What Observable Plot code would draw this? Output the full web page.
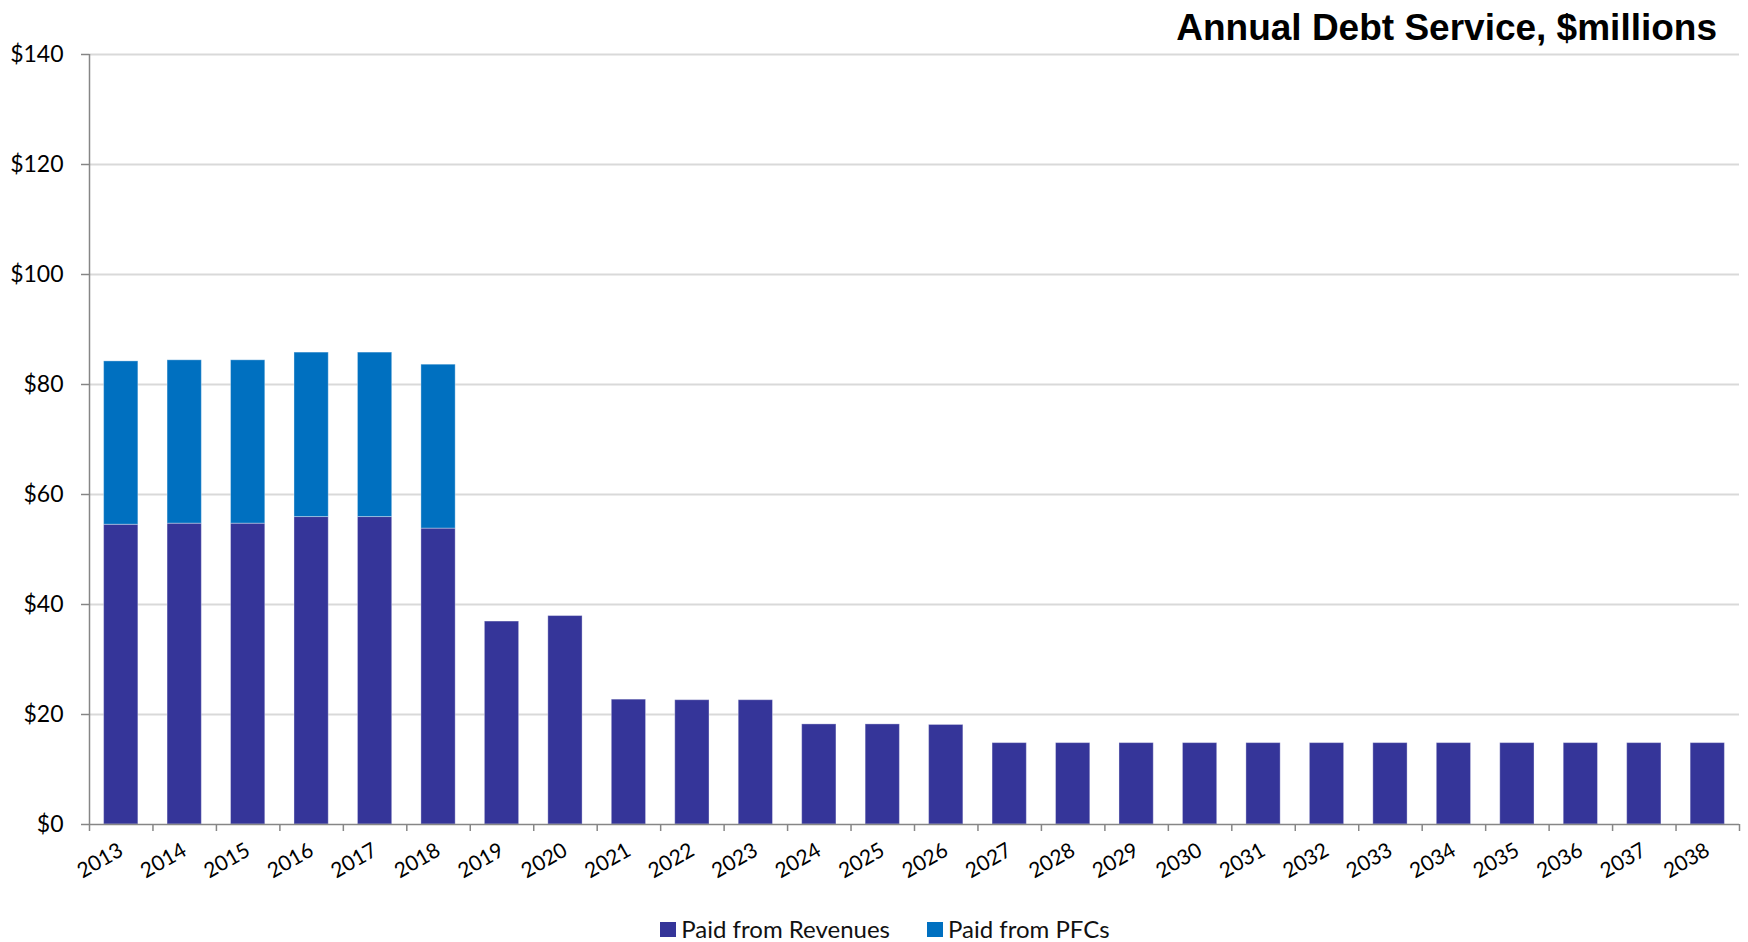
<!DOCTYPE html>
<html>
<head>
<meta charset="utf-8">
<script src="https://cdn.jsdelivr.net/npm/d3@7"></script>
<script src="https://cdn.jsdelivr.net/npm/@observablehq/plot@0.6"></script>
<style>
  body { margin: 0; background: #fff; }
  #wrap { position: relative; width: 1748px; height: 942px; overflow: hidden; font-family: Lato, "Open Sans", sans-serif; }
  #chart { position: absolute; left: 0; top: 0; }
  #title { position: absolute; right: 31px; top: 9px; font: bold 37px/37px "Liberation Sans", Arial, sans-serif; color: #000; white-space: nowrap; }
  #legend { position: absolute; left: 0; top: 918px; width: 1748px; display: flex; justify-content: center; gap: 37px; font-size: 24px; line-height: 22px; color: #111; padding-left: 22px; box-sizing: border-box; }
  .item { display: flex; align-items: center; gap: 5px; }
  .sw { width: 16px; height: 15px; display: inline-block; }
</style>
</head>
<body>
<div id="wrap">
  <div id="chart"></div>
  <div id="title"></div>
  <div id="legend"></div>
</div>
<script>
const titleText = "Annual Debt Service, $millions";
const years = [2013, 2014, 2015, 2016, 2017, 2018, 2019, 2020, 2021, 2022, 2023, 2024, 2025,
               2026, 2027, 2028, 2029, 2030, 2031, 2032, 2033, 2034, 2035, 2036, 2037, 2038];
const revenues = [54.5, 54.7, 54.7, 55.9, 55.9, 53.8, 36.9, 37.9, 22.7, 22.6, 22.6, 18.2, 18.2,
                  18.1, 14.8, 14.8, 14.8, 14.8, 14.8, 14.8, 14.8, 14.8, 14.8, 14.8, 14.8, 14.8];
const pfcs = [29.7, 29.7, 29.7, 29.9, 29.9, 29.8, 0, 0, 0, 0, 0, 0, 0,
              0, 0, 0, 0, 0, 0, 0, 0, 0, 0, 0, 0, 0];
const seriesNames = ["Paid from Revenues", "Paid from PFCs"];
const seriesColors = ["#353599", "#0070C0"];
const yTicks = [0, 20, 40, 60, 80, 100, 120, 140];

// stacked rows built from the arrays
const rows = [];
years.forEach((yr, i) => {
  rows.push({year: yr, series: seriesNames[0], y1: 0, y2: revenues[i]});
  if (pfcs[i] > 0) rows.push({year: yr, series: seriesNames[1], y1: revenues[i], y2: revenues[i] + pfcs[i]});
});
const boundaries = years.map(y => y - 0.5).concat([years[years.length - 1] + 0.5]);

const axisGray = "#868686";
const chart = Plot.plot({
  width: 1748,
  height: 900,
  marginTop: 54,
  marginBottom: 76,
  marginLeft: 89,
  marginRight: 9,
  style: {fontFamily: "Lato, 'Open Sans', sans-serif", background: "#fff", color: "#000"},
  x: {type: "linear", domain: [boundaries[0], boundaries[boundaries.length - 1]]},
  y: {domain: [0, 140]},
  color: {domain: seriesNames, range: seriesColors},
  marks: [
    Plot.gridY(yTicks.filter(d => d > 0), {stroke: "#d9d9d9", strokeOpacity: 1, strokeWidth: 2}),
    Plot.rectY(rows, {
      x1: d => d.year - 0.5, x2: d => d.year + 0.5, y1: "y1", y2: "y2",
      fill: "series", insetLeft: 14.6, insetRight: 14.6,
      stroke: "#ffffff", strokeOpacity: 0.35, strokeWidth: 1
    }),
    Plot.ruleY([0], {stroke: axisGray, strokeWidth: 1.5}),
    Plot.ruleX([boundaries[0]], {stroke: axisGray, strokeWidth: 1.5}),
    Plot.axisY({ticks: yTicks, tickSize: 8, tickPadding: 18, tickFormat: d => "$" + d,
                fontSize: 23, stroke: axisGray, strokeWidth: 1.5, label: null}),
    Plot.axisX({ticks: boundaries, tickSize: 7, tickFormat: () => "", stroke: axisGray, strokeWidth: 1.5, label: null}),
    Plot.axisX({ticks: years, tickSize: 0, tickPadding: 24, tickRotate: -30, textAnchor: "end",
                tickFormat: d => String(d), fontSize: 21, label: null})
  ]
});
document.getElementById("chart").appendChild(chart);
document.getElementById("title").textContent = titleText;

const legend = document.getElementById("legend");
seriesNames.forEach((name, i) => {
  const item = document.createElement("div");
  item.className = "item";
  const sw = document.createElement("span");
  sw.className = "sw";
  sw.style.background = seriesColors[i];
  const t = document.createElement("span");
  t.textContent = name;
  item.appendChild(sw);
  item.appendChild(t);
  legend.appendChild(item);
});
</script>
</body>
</html>
